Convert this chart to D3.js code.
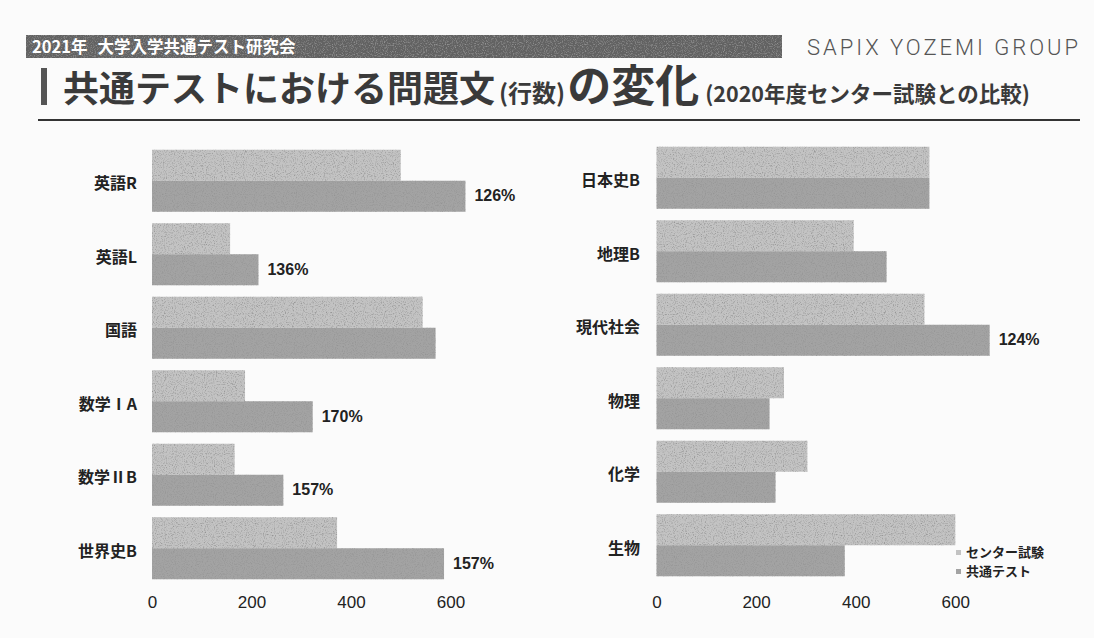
<!DOCTYPE html>
<html>
<head>
<meta charset="utf-8">
<script src="https://cdn.jsdelivr.net/npm/d3@7"></script>
<style>
    body { margin: 0; background: #fbfbfb; }
    svg { display: block; }
    text { font-family: "Noto Sans CJK JP", "Liberation Sans", sans-serif; }
</style>
</head>
<body>
<svg id="chart"></svg>
<script>
// values (number of lines)
const leftSubjects = ['英語R', '英語L', '国語', '数学ⅠA', '数学ⅡB', '世界史B'];
const leftCenter = [500, 157, 544, 187, 166, 372];
const leftCommon = [630, 214, 570, 323, 264, 587];
const leftRatio = ['126%', '136%', '', '170%', '157%', '157%'];

const rightSubjects = ['日本史B', '地理B', '現代社会', '物理', '化学', '生物'];
const rightCenter = [548, 396, 538, 256, 303, 600];
const rightCommon = [548, 462, 669, 227, 239, 378];
const rightRatio = ['', '', '124%', '', '', ''];

const ticks = [0, 200, 400, 600];
const legendLabels = ['センター試験', '共通テスト'];
const colors = ['#c3c3c3', '#a3a3a3'];

const W = 1094, H = 638;
const svg = d3.select('#chart').attr('width', W).attr('height', H);

// grain filter so the bars look like the scanned print
const defs = svg.append('defs');
const f = defs.append('filter').attr('id', 'grain').attr('x', 0).attr('y', 0).attr('width', 1).attr('height', 1);
f.append('feTurbulence').attr('type', 'fractalNoise').attr('baseFrequency', 0.9).attr('numOctaves', 2).attr('seed', 3).attr('result', 'n');
f.append('feColorMatrix').attr('in', 'n').attr('type', 'matrix')
    .attr('values', '0 0 0 0 0.3  0 0 0 0 0.3  0 0 0 0 0.3  2.6 0 0 0 -1.25').attr('result', 'g');
f.append('feComposite').attr('in', 'g').attr('in2', 'SourceGraphic').attr('operator', 'in').attr('result', 'gm');
const fm = f.append('feMerge');
fm.append('feMergeNode').attr('in', 'SourceGraphic');
fm.append('feMergeNode').attr('in', 'gm');

// header band
svg.append('rect').attr('x', 26).attr('y', 35).attr('width', 756).attr('height', 23)
    .attr('fill', '#626262').attr('filter', 'url(#grain)');
const band = svg.append('text').attr('x', 32).attr('y', 53)
    .attr('fill', '#fff').attr('font-size', 16.5).attr('font-weight', 700);
band.append('tspan').text('2021年');
band.append('tspan').attr('dx', 10).text('大学入学共通テスト研究会');
svg.append('text').attr('x', 807).attr('y', 55)
    .attr('fill', '#555').attr('font-size', 22).attr('font-weight', 300)
    .style('font-family', 'Roboto, sans-serif')
    .attr('textLength', 271).attr('lengthAdjust', 'spacing')
    .text('SAPIX YOZEMI GROUP');

// title
svg.append('rect').attr('x', 41).attr('y', 68).attr('width', 6).attr('height', 37).attr('fill', '#555');
const title = svg.append('text').attr('x', 63).attr('y', 102).attr('fill', '#3a3a3a').attr('font-weight', 700);
title.append('tspan').attr('font-size', 36).text('共通テストにおける問題文');
title.append('tspan').attr('font-size', 24).attr('dx', 4).text('(行数)');
title.append('tspan').attr('font-size', 44).attr('dx', 2).text('の変化');
title.append('tspan').attr('font-size', 21.5).attr('dx', 6).text('(2020年度センター試験との比較)');
svg.append('line').attr('x1', 38).attr('x2', 1080).attr('y1', 120).attr('y2', 120)
    .attr('stroke', '#333').attr('stroke-width', 2);

function drawPanel(subjects, center, common, ratio, xr, yr, labelX) {
    const x = d3.scaleLinear().domain([0, 600]).range(xr);
    const y = d3.scaleBand().domain(subjects).range(yr).paddingInner(0.156).paddingOuter(0.078);
    const h = y.bandwidth() / 2;
    const g = svg.append('g');

    const rows = subjects.map((s, i) => ({ s, c: center[i], n: common[i], r: ratio[i] }));

    g.selectAll('.center').data(rows).join('rect')
        .attr('class', 'center')
        .attr('x', x(0)).attr('y', d => y(d.s))
        .attr('width', d => x(d.c) - x(0)).attr('height', h)
        .attr('fill', colors[0]).attr('filter', 'url(#grain)');

    g.selectAll('.common').data(rows).join('rect')
        .attr('class', 'common')
        .attr('x', x(0)).attr('y', d => y(d.s) + h)
        .attr('width', d => x(d.n) - x(0)).attr('height', h)
        .attr('fill', colors[1]).attr('filter', 'url(#grain)');

    g.selectAll('.cat').data(rows).join('text')
        .attr('class', 'cat')
        .attr('x', labelX).attr('y', d => y(d.s) + y.bandwidth() / 2 + 4)
        .attr('text-anchor', 'end').attr('dominant-baseline', 'middle')
        .attr('font-size', 16).attr('font-weight', 700).attr('fill', '#222')
        .text(d => d.s);

    g.selectAll('.ratio').data(rows.filter(d => d.r)).join('text')
        .attr('class', 'ratio')
        .attr('x', d => x(d.n) + 9).attr('y', d => y(d.s) + h * 1.5 + 1)
        .attr('dominant-baseline', 'middle')
        .attr('font-size', 16).attr('font-weight', 700).attr('fill', '#222')
        .style('font-family', '"Liberation Sans", sans-serif')
        .text(d => d.r);

    const axis = d3.axisBottom(x).tickValues(ticks).tickSize(0).tickPadding(0);
    const ag = g.append('g').attr('transform', 'translate(0,596)').call(axis);
    ag.select('.domain').remove();
    ag.selectAll('text').attr('font-size', 17).attr('fill', '#222')
        .style('font-family', '"Liberation Sans", sans-serif');
}

drawPanel(leftSubjects, leftCenter, leftCommon, leftRatio, [152, 450.5], [144, 585], 137);
drawPanel(rightSubjects, rightCenter, rightCommon, rightRatio, [656.5, 955.3], [141, 582], 640);

// legend
const lg = svg.append('g');
legendLabels.forEach((t, i) => {
    lg.append('rect').attr('x', 956).attr('y', 550 + i * 19).attr('width', 5).attr('height', 5).attr('fill', colors[i]);
    lg.append('text').attr('x', 966).attr('y', 553 + i * 19)
        .attr('dominant-baseline', 'middle').attr('font-size', 13).attr('font-weight', 700).attr('fill', '#222')
        .text(t);
});
</script>
</body>
</html>
